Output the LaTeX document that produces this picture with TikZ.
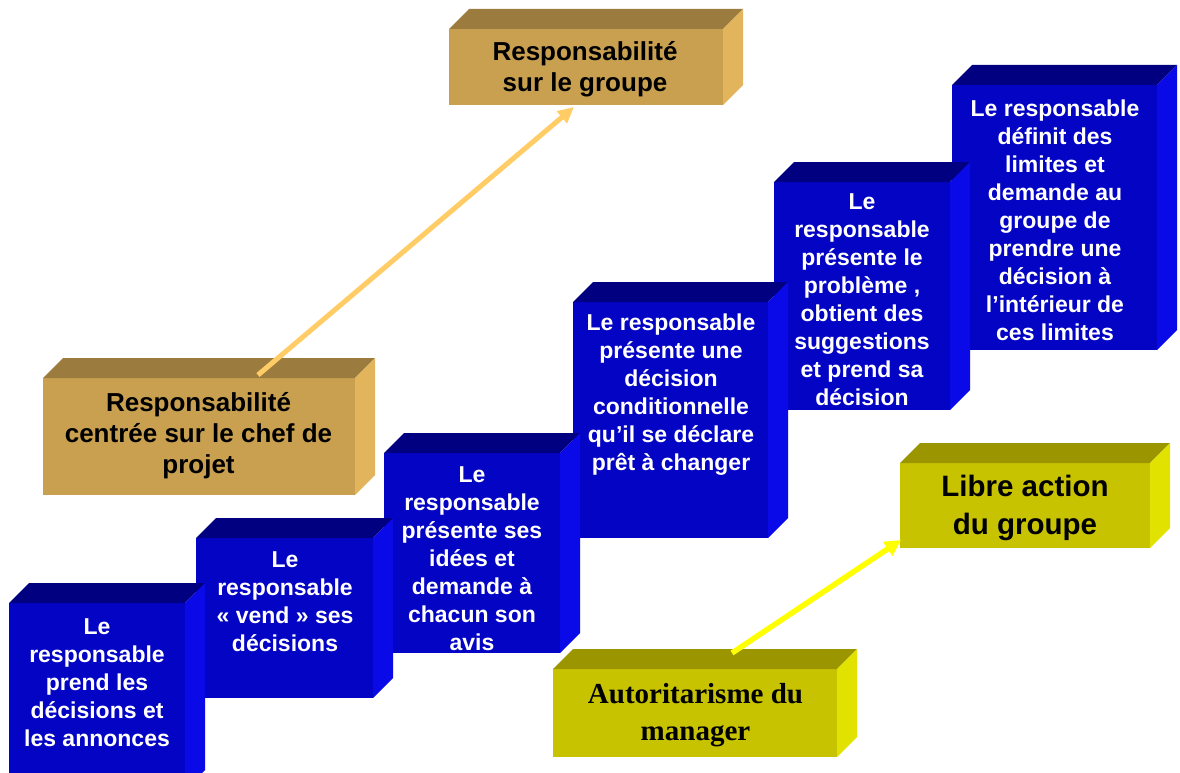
\documentclass[tikz,border=0pt]{standalone}
\usepackage{fontspec}
\setmainfont{Liberation Sans}
\newfontfamily\timesfont{Liberation Serif}
\usetikzlibrary{arrows.meta}
\definecolor{blueF}{RGB}{4,4,196}
\definecolor{blueT}{RGB}{0,0,128}
\definecolor{blueS}{RGB}{10,10,232}
\definecolor{tanF}{RGB}{200,160,80}
\definecolor{tanT}{RGB}{155,124,62}
\definecolor{tanS}{RGB}{226,181,92}
\definecolor{yelF}{RGB}{200,195,0}
\definecolor{yelT}{RGB}{155,150,0}
\definecolor{yelS}{RGB}{226,226,0}
\definecolor{orgLine}{RGB}{255,204,102}
\definecolor{yelLine}{RGB}{255,255,0}
% #1 name, #2 L, #3 T, #4 R, #5 B, #6 front, #7 top, #8 side
\newcommand\drawcube[8]{%
  \node[fill=#6, inner sep=0pt, outer sep=0pt, anchor=north west,
        minimum width={(#4-#2)*1pt}, minimum height={(#5-#3)*1pt}] (#1) at (#2,#3) {};
  \fill[#7] (#2,#3) -- ({#2+20},{#3-20}) -- ({#4+20},{#3-20}) -- (#4,#3) -- cycle;
  \fill[#8] (#4,#3) -- ({#4+20},{#3-20}) -- ({#4+20},{#5-20}) -- (#4,#5) -- cycle;
}
\tikzset{
  bluetxt/.style={text=white, align=center, inner sep=0pt,
    font=\bfseries\fontsize{23}{28}\selectfont},
  tantxt/.style={text=black, align=center, inner sep=0pt,
    font=\bfseries\fontsize{26}{31}\selectfont},
  libretxt/.style={text=black, align=center, inner sep=0pt,
    font=\bfseries\fontsize{29.5}{38}\selectfont},
  autotxt/.style={text=black, align=center, inner sep=0pt,
    font=\timesfont\bfseries\fontsize{29}{37}\selectfont},
  orgarr/.style={draw=orgLine, line width=5pt, -{Triangle[length=16pt,width=15pt]}},
  yelarr/.style={draw=yelLine, line width=5.5pt, -{Triangle[length=16pt,width=16pt]}}
}
\begin{document}
\begin{tikzpicture}[x=1pt,y=-1pt]
\useasboundingbox (0,0) rectangle (1180,773);
\clip (0,0) rectangle (1180,773);
\fill[white] (0,0) rectangle (1180,773);
% yellow boxes
\drawcube{Y1}{553}{669}{837}{757}{yelF}{yelT}{yelS}
\drawcube{Y2}{900}{463}{1150}{548}{yelF}{yelT}{yelS}
% tan boxes
\drawcube{T1}{43}{378}{355}{495}{tanF}{tanT}{tanS}
\drawcube{T2}{449}{29}{723}{105}{tanF}{tanT}{tanS}
% blue steps, drawn right to left
\drawcube{B6}{952}{85}{1157}{350}{blueF}{blueT}{blueS}
\drawcube{B5}{774}{182}{950}{410}{blueF}{blueT}{blueS}
\drawcube{B4}{573}{302}{768}{538}{blueF}{blueT}{blueS}
\drawcube{B3}{384}{453}{560}{653}{blueF}{blueT}{blueS}
\drawcube{B2}{196}{538}{373}{698}{blueF}{blueT}{blueS}
\drawcube{B1}{9}{603}{185}{790}{blueF}{blueT}{blueS}
% texts
\node[bluetxt] (tb1) at (97,683) {Le\\responsable\\prend les\\décisions et\\les annonces};
\node[bluetxt] (tb2) at (285,602) {Le\\responsable\\« vend » ses\\décisions};
\node[bluetxt] (tb3) at (472,559) {Le\\responsable\\présente ses\\idées et\\demande à\\chacun son\\avis};
\node[bluetxt] (tb4) at (671,395) {Le responsable\\présente une\\décision\\conditionnelle\\qu’il se déclare\\prêt à changer};
\node[bluetxt] (tb5) at (862,300) {Le\\responsable\\présente le\\problème ,\\obtient des\\suggestions\\et prend sa\\décision};
\node[bluetxt] (tb6) at (1055,220) {Le responsable\\définit des\\limites et\\demande au\\groupe de\\prendre une\\décision à\\l’intérieur de\\ces limites};
\node[tantxt] (tt1) at (198.5,436) {Responsabilité\\centrée sur le chef de\\projet};
\node[tantxt] (tt2) at (585,69) {Responsabilité\\sur le groupe};
\node[autotxt] (ty1) at (695.5,715) {Autoritarisme du\\manager};
\node[libretxt] (ty2) at (1025,508) {Libre action\\du groupe};
% arrows
\draw[orgarr] ([xshift=59pt,yshift=3pt]T1.north) -- ([xshift=-12pt,yshift=-2pt]T2.south);
\draw[yelarr] ([xshift=37pt,yshift=16pt]Y1.north) -- ([xshift=1pt,yshift=8pt]Y2.south west);
\end{tikzpicture}
\end{document}
